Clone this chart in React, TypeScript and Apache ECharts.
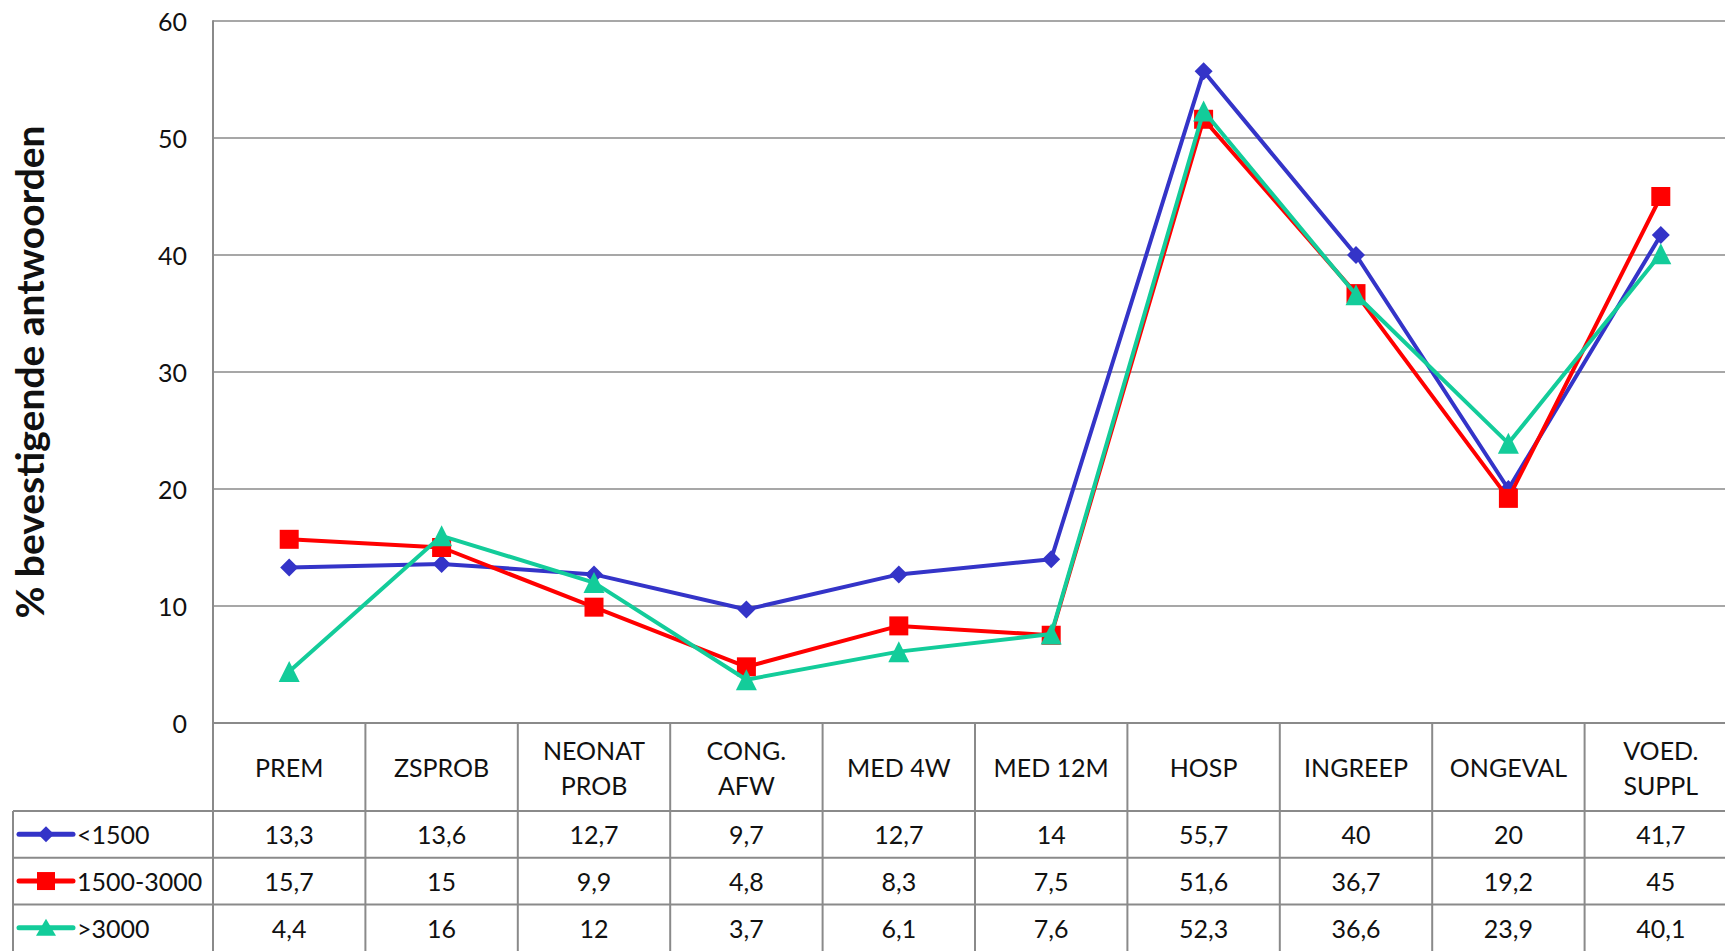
import React, { useEffect, useRef } from "react";
import * as echarts from "echarts";

const categories = ["PREM", "ZSPROB", "NEONAT\nPROB", "CONG.\nAFW", "MED 4W", "MED 12M", "HOSP", "INGREEP", "ONGEVAL", "VOED.\nSUPPL"];
const seriesNames = ["<1500", "1500-3000", ">3000"];
const lt1500 = [13.3, 13.6, 12.7, 9.7, 12.7, 14, 55.7, 40, 20, 41.7];
const mid1500_3000 = [15.7, 15, 9.9, 4.8, 8.3, 7.5, 51.6, 36.7, 19.2, 45];
const gt3000 = [4.4, 16, 12, 3.7, 6.1, 7.6, 52.3, 36.6, 23.9, 40.1];
const yTicks = [0, 10, 20, 30, 40, 50, 60];

const colors = ["#3434C8", "#FF0000", "#13CC9A"];
const symbols = ["diamond", "rect", "triangle"];
const symbolSizes = [18, 19, 21];
const FONT = "Lato, 'Open Sans', sans-serif";
const GRID = "#8a8a8a";
const FS = 25;

export default function App() {
  const ref = useRef<HTMLDivElement>(null);
  useEffect(() => {
    if (!ref.current) return;
    const chart = echarts.init(ref.current, null, { renderer: "svg" });
    const seriesData = [lt1500, mid1500_3000, gt3000];
    const gridLeft = 213, gridTop = 21, gridH = 702;
    const gridW = 1524;
    chart.setOption({
      animation: false,
      backgroundColor: "#ffffff",
      grid: { left: gridLeft, top: gridTop, width: gridW, height: gridH, containLabel: false, outerBoundsMode: "none" },
      xAxis: {
        type: "category",
        data: categories,
        boundaryGap: true,
        axisLine: { show: true, lineStyle: { color: GRID, width: 2 } },
        axisTick: { show: false },
        axisLabel: {
          interval: 0,
          margin: 44,
          verticalAlign: "middle",
          lineHeight: 35,
          fontSize: FS,
          fontFamily: FONT,
          color: "#111",
        },
      },
      yAxis: {
        type: "value",
        min: 0,
        max: yTicks[yTicks.length - 1],
        interval: 10,
        axisLine: { show: true, lineStyle: { color: GRID, width: 2 } },
        axisTick: { show: false },
        splitLine: { lineStyle: { color: GRID, width: 1.5 } },
        axisLabel: { margin: 26, fontSize: FS, fontFamily: FONT, color: "#111" },
        name: "% bevestigende antwoorden",
        nameLocation: "middle",
        nameRotate: 90,
        nameGap: 165,
        nameTextStyle: { fontSize: 39, fontWeight: "bold", fontFamily: FONT, color: "#111" },
      },
      series: seriesNames.map((n, i) => ({
        name: n,
        type: "line",
        data: seriesData[i],
        symbol: symbols[i],
        symbolSize: symbolSizes[i],
        showSymbol: true,
        lineStyle: { color: colors[i], width: 4 },
        itemStyle: { color: colors[i] },
        z: 2 + i,
      })),
    });

    const colW = gridW / categories.length;
    const axisY = gridTop + gridH;
    const headerBottom = 811;
    const rowH = 46.7;
    const tableLeft = 13;
    const bottom = 960;
    const right = 1760;
    const elements: any[] = [];
    const lineStyle = { stroke: GRID, lineWidth: 2 };
    for (let k = 1; k <= categories.length; k++) {
      const x = gridLeft + colW * k;
      elements.push({ type: "line", shape: { x1: x, y1: axisY, x2: x, y2: bottom }, style: lineStyle, z: 1 });
    }
    elements.push({ type: "line", shape: { x1: gridLeft, y1: axisY, x2: gridLeft, y2: bottom }, style: lineStyle, z: 1 });
    elements.push({ type: "line", shape: { x1: tableLeft, y1: headerBottom, x2: tableLeft, y2: bottom }, style: lineStyle });
    for (let r = 0; r < 3; r++) {
      const y = headerBottom + rowH * r;
      elements.push({ type: "line", shape: { x1: tableLeft, y1: y, x2: right, y2: y }, style: lineStyle });
    }
    seriesNames.forEach((n, r) => {
      const cy = headerBottom + rowH * r + rowH / 2;
      elements.push({ type: "line", shape: { x1: 19, y1: cy, x2: 73, y2: cy }, style: { stroke: colors[r], lineWidth: 5, lineCap: "round" } });
      const kx = 46;
      if (r === 0) {
        elements.push({ type: "polygon", shape: { points: [[kx, cy - 8], [kx + 8, cy], [kx, cy + 8], [kx - 8, cy]] }, style: { fill: colors[r] } });
      } else if (r === 1) {
        elements.push({ type: "rect", shape: { x: kx - 9, y: cy - 9, width: 18, height: 18 }, style: { fill: colors[r] } });
      } else {
        elements.push({ type: "polygon", shape: { points: [[kx, cy - 9], [kx + 10, cy + 8], [kx - 10, cy + 8]] }, style: { fill: colors[r] } });
      }
      elements.push({
        type: "text",
        x: 77,
        y: cy,
        style: { text: n, fontSize: FS, fontFamily: FONT, fill: "#111", textAlign: "left", textVerticalAlign: "middle" },
      });
      seriesData[r].forEach((v, i) => {
        const px = chart.convertToPixel({ xAxisIndex: 0 }, i) as number;
        elements.push({
          type: "text",
          x: px,
          y: cy,
          style: { text: String(v).replace(".", ","), fontSize: FS, fontFamily: FONT, fill: "#111", textAlign: "center", textVerticalAlign: "middle" },
        });
      });
    });
    chart.setOption({ graphic: { elements } });
    return () => chart.dispose();
  }, []);
  return (
    <div style={{ position: "fixed", left: 0, top: 0, width: 1725, height: 951, overflow: "hidden", background: "#fff" }}>
      <div ref={ref} style={{ width: 1760, height: 951 }} />
    </div>
  );
}
